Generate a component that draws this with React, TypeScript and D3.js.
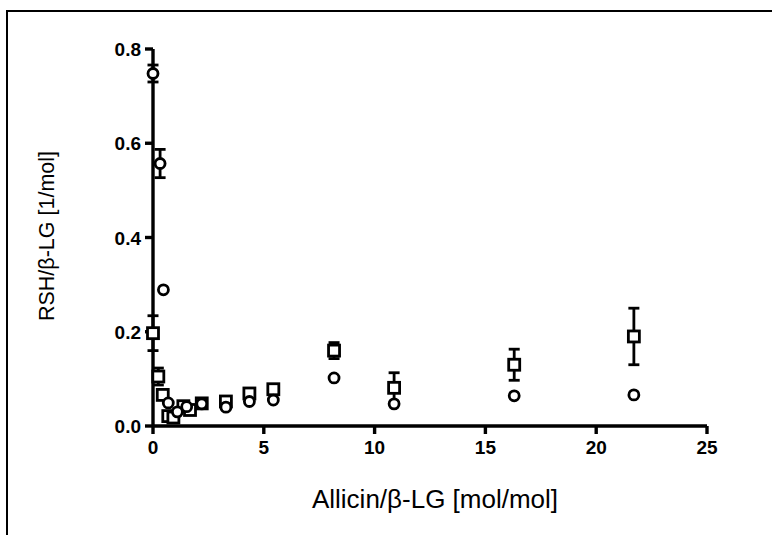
import React from "react";
import * as d3 from "d3";

// Series 1: circles
const circX = [0, 0.32, 0.47, 0.69, 1.1, 1.52, 2.2, 3.29, 4.35, 5.43, 8.17, 10.88, 16.3, 21.7];
const circY = [0.748, 0.557, 0.289, 0.049, 0.03, 0.041, 0.047, 0.04, 0.052, 0.055, 0.102, 0.047, 0.064, 0.066];
const circErr = [0.018, 0.03, 0, 0, 0, 0, 0, 0, 0, 0, 0, 0, 0, 0];

// Series 2: squares
const sqX = [0, 0.24, 0.44, 0.69, 0.92, 1.37, 1.67, 2.2, 3.29, 4.35, 5.43, 8.17, 10.88, 16.3, 21.7];
const sqY = [0.197, 0.105, 0.066, 0.021, 0.018, 0.042, 0.034, 0.048, 0.052, 0.069, 0.078, 0.16, 0.081, 0.13, 0.19];
const sqErr = [0.037, 0.018, 0, 0, 0, 0, 0, 0, 0, 0, 0, 0.017, 0.032, 0.033, 0.06];

const xTicks = [0, 5, 10, 15, 20, 25];
const yTicks = [0, 0.2, 0.4, 0.6, 0.8];

export default function App() {
  const W = 772, H = 535;
  const x = d3.scaleLinear().domain([0, 25]).range([153, 707]);
  const y = d3.scaleLinear().domain([0, 0.8]).range([426, 49]);
  const sw = 2.8;
  const font = "Arial, 'Liberation Sans', sans-serif";

  const errBar = (cx: number, cy: number, e: number, k: string) => {
    if (!e) return null;
    const top = y(cy + e), bot = y(cy - e);
    return (
      <g key={k} stroke="#000" strokeWidth={sw}>
        <line x1={x(cx)} x2={x(cx)} y1={top} y2={bot} />
        <line x1={x(cx) - 5.5} x2={x(cx) + 5.5} y1={top} y2={top} />
        <line x1={x(cx) - 5.5} x2={x(cx) + 5.5} y1={bot} y2={bot} />
      </g>
    );
  };

  return (
    <svg width={W} height={H} style={{ position: "absolute", left: 0, top: 0, background: "#fff" }}>
      <rect x={0} y={0} width={W} height={H} fill="#fff" />
      <path d={`M7,${H} L7,11 L${W},11`} fill="none" stroke="#000" strokeWidth={2} />

      {/* axes */}
      <line x1={x(0)} x2={x(25)} y1={y(0)} y2={y(0)} stroke="#000" strokeWidth={3.4} />
      <line x1={x(0)} x2={x(0)} y1={y(0)} y2={y(0.8)} stroke="#000" strokeWidth={3.4} />
      {xTicks.map((t) => (
        <g key={"xt" + t}>
          <line x1={x(t)} x2={x(t)} y1={y(0)} y2={y(0) + 8} stroke="#000" strokeWidth={3.4} />
          <text x={x(t)} y={y(0) + 28} textAnchor="middle" fontFamily={font} fontWeight="bold" fontSize={19}>{t}</text>
        </g>
      ))}
      {yTicks.map((t) => (
        <g key={"yt" + t}>
          <line x1={x(0) - 8} x2={x(0)} y1={y(t)} y2={y(t)} stroke="#000" strokeWidth={3.4} />
          <text x={x(0) - 12} y={y(t) + 7} textAnchor="end" fontFamily={font} fontWeight="bold" fontSize={19}>{t.toFixed(1)}</text>
        </g>
      ))}

      <text x={435} y={508} textAnchor="middle" fontFamily={font} fontSize={26}>Allicin/β-LG [mol/mol]</text>
      <text transform={`translate(54,236) rotate(-90)`} textAnchor="middle" fontFamily={font} fontSize={21.5}>RSH/β-LG [1/mol]</text>

      {/* error bars */}
      {circX.map((cx, i) => errBar(cx, circY[i], circErr[i], "ce" + i))}
      {sqX.map((sx, i) => errBar(sx, sqY[i], sqErr[i], "se" + i))}

      {/* squares */}
      {sqX.map((sx, i) => (
        <rect key={"s" + i} x={x(sx) - 5.5} y={y(sqY[i]) - 5.5} width={11} height={11} fill="#fff" stroke="#000" strokeWidth={sw} />
      ))}
      {/* circles */}
      {circX.map((cx, i) => (
        <circle key={"c" + i} cx={x(cx)} cy={y(circY[i])} r={5} fill="#fff" stroke="#000" strokeWidth={sw} />
      ))}
    </svg>
  );
}
